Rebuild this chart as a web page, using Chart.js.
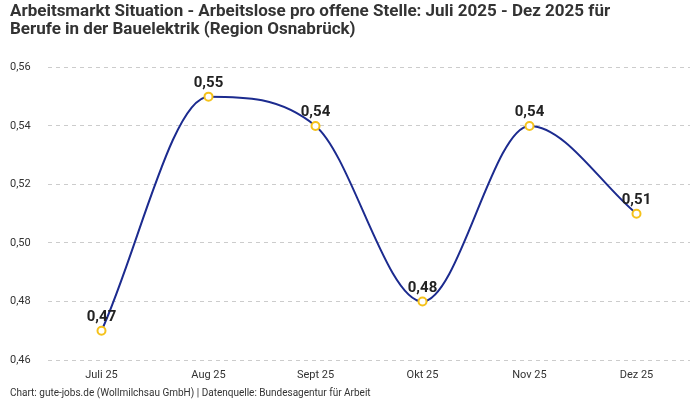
<!DOCTYPE html>
<html><head><meta charset="utf-8">
<script src="https://cdn.jsdelivr.net/npm/chart.js@4.4.0/dist/chart.umd.min.js"></script>
<style>html,body{margin:0;padding:0;background:#fff}#wrap{width:700px;height:400px}</style>
</head><body><div id="wrap"><canvas id="c"></canvas></div>
<script>
const categories = ["Juli 25","Aug 25","Sept 25","Okt 25","Nov 25","Dez 25"];
const values = [0.47, 0.55, 0.54, 0.48, 0.54, 0.51];
const titleLines = ["Arbeitsmarkt Situation - Arbeitslose pro offene Stelle: Juli 2025 - Dez 2025 für","Berufe in der Bauelektrik (Region Osnabrück)"];
const footerText = "Chart: gute-jobs.de (Wollmilchsau GmbH) | Datenquelle: Bundesagentur für Arbeit";
const FONT = "Roboto, 'Noto Sans', sans-serif";
const fmt = v => v.toFixed(2).replace('.', ',');

const labelPlugin = {
  id: 'valueLabels',
  afterDatasetsDraw(chart) {
    const ctx = chart.ctx;
    const meta = chart.getDatasetMeta(0);
    ctx.save();
    ctx.font = "bold 15px " + FONT;
    ctx.fillStyle = "#222";
    ctx.textAlign = "center";
    ctx.textBaseline = "bottom";
    meta.data.forEach((pt, i) => {
      ctx.fillText(fmt(values[i]), pt.x, pt.y - 6);
    });
    ctx.restore();
  }
};

new Chart(document.getElementById('c'), {
  type: 'line',
  data: {
    labels: categories,
    datasets: [{
      data: values,
      borderColor: '#1c2b8f',
      borderWidth: 2,
      cubicInterpolationMode: 'monotone',
      pointRadius: 4,
      pointBorderWidth: 2,
      pointBackgroundColor: '#ffffff',
      pointBorderColor: '#f5c21b',
      fill: false
    }]
  },
  options: {
    responsive: true,
    maintainAspectRatio: false,
    animation: false,
    layout: { padding: { left: 10, right: 10, top: 0, bottom: 1 } },
    plugins: {
      legend: { display: false },
      tooltip: { enabled: false },
      title: {
        display: true, text: titleLines, align: 'start',
        color: '#333', font: { family: FONT, size: 17, weight: 'bold', lineHeight: 1.1 },
        padding: { top: 2, bottom: 28 }
      },
      subtitle: {
        display: true, text: footerText, position: 'bottom', align: 'start',
        color: '#333', font: { family: FONT, size: 10 },
        padding: { top: 0, bottom: 0 }
      }
    },
    scales: {
      x: {
        offset: true,
        afterFit(scale) { scale.height = 27; },
        grid: { display: false, drawTicks: false },
        border: { display: false },
        ticks: { color: '#333', font: { family: FONT, size: 11 }, padding: 9 }
      },
      y: {
        min: 0.46, max: 0.56,
        afterFit(scale) { scale.width = 38; },
        grid: { color: '#cccccc', drawTicks: false },
        border: { display: false, dash: [4, 4] },
        ticks: { stepSize: 0.02, color: '#333', font: { family: FONT, size: 11 }, crossAlign: 'far', padding: 8,
                 callback: v => fmt(v) }
      }
    }
  },
  plugins: [labelPlugin]
});
</script></body></html>
